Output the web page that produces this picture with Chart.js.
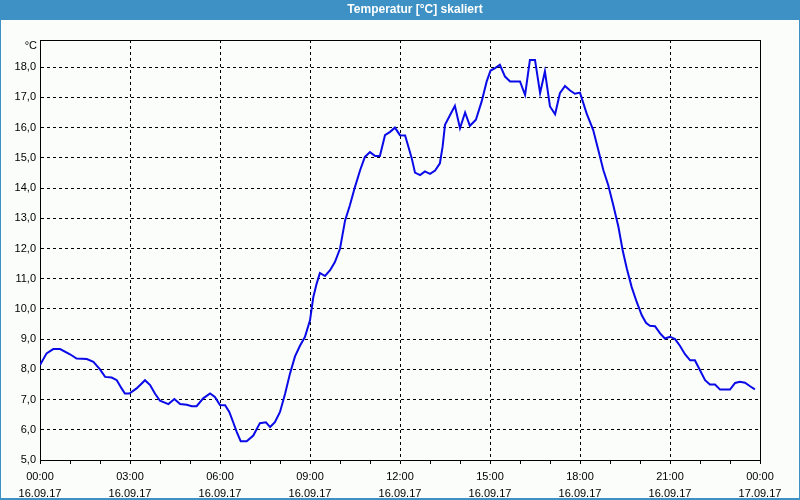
<!DOCTYPE html>
<html>
<head>
<meta charset="utf-8">
<script src="https://cdn.jsdelivr.net/npm/chart.js@4"></script>
<style>
html,body{margin:0;padding:0;background:#fafdfa;}
#wrap{width:800px;height:500px;}
</style>
</head>
<body>
<div id="wrap"><canvas id="c" width="800" height="500"></canvas></div>
<script>
// ---- data ----
const chartTitle = 'Temperatur [°C] skaliert';
const unitLabel = '°C';
const hours = [
  0.0,0.22,0.44,0.67,1.0,1.22,1.56,1.78,2.0,2.17,2.39,2.56,2.72,2.83,2.98,3.22,3.5,3.67,3.83,4.0,
  4.28,4.48,4.67,4.89,5.06,5.22,5.44,5.67,5.83,6.0,6.17,6.31,6.44,6.56,6.69,6.89,7.11,7.33,7.53,7.67,
  7.83,8.0,8.17,8.33,8.5,8.67,8.83,9.0,9.11,9.22,9.33,9.5,9.67,9.83,10.0,10.17,10.33,10.5,10.67,10.83,
  11.0,11.17,11.33,11.5,11.67,11.83,12.0,12.17,12.28,12.39,12.5,12.67,12.83,13.0,13.17,13.33,13.42,13.5,13.67,13.83,
  14.0,14.17,14.33,14.53,14.72,14.89,15.02,15.17,15.33,15.5,15.67,15.83,16.0,16.17,16.33,16.5,16.67,16.83,17.0,17.17,
  17.33,17.5,17.67,17.83,18.0,18.22,18.44,18.61,18.78,18.94,19.11,19.28,19.42,19.56,19.72,19.89,20.06,20.2,20.33,20.5,
  20.67,20.83,21.0,21.17,21.33,21.5,21.67,21.83,22.0,22.17,22.33,22.5,22.67,22.83,23.0,23.17,23.33,23.5,23.67,23.83
];
const temps = [
  8.14,8.53,8.67,8.67,8.5,8.36,8.34,8.25,8.0,7.75,7.73,7.64,7.37,7.2,7.2,7.37,7.64,7.48,7.2,6.96,
  6.85,7.02,6.85,6.83,6.78,6.78,7.04,7.2,7.09,6.82,6.81,6.59,6.25,5.92,5.62,5.62,5.81,6.22,6.25,6.09,
  6.25,6.59,7.19,7.85,8.43,8.79,9.07,9.62,10.39,10.83,11.19,11.09,11.28,11.55,11.99,12.93,13.43,14.04,14.59,15.03,
  15.19,15.06,15.06,15.75,15.86,16.0,15.75,15.74,15.37,14.99,14.51,14.43,14.55,14.47,14.58,14.82,15.37,16.09,16.42,16.72,
  15.98,16.5,16.06,16.26,16.86,17.53,17.89,17.97,18.08,17.69,17.53,17.53,17.53,17.08,18.24,18.24,17.14,17.86,16.7,16.44,
  17.14,17.38,17.23,17.12,17.16,16.47,15.92,15.26,14.59,14.1,13.43,12.72,11.95,11.34,10.73,10.23,9.79,9.54,9.44,9.43,
  9.19,9.02,9.08,9.0,8.78,8.5,8.3,8.3,7.97,7.64,7.5,7.5,7.33,7.33,7.33,7.55,7.59,7.56,7.44,7.34
];
const xTickTimes = ['00:00','03:00','06:00','09:00','12:00','15:00','18:00','21:00','00:00'];
const xTickDates = ['16.09.17','16.09.17','16.09.17','16.09.17','16.09.17','16.09.17','16.09.17','16.09.17','17.09.17'];
const yMin = 5, yMax = 18.9;

// ---- chart ----
Chart.defaults.font.family = 'Liberation Sans, Arial, sans-serif';
Chart.defaults.font.size = 11;
Chart.defaults.color = '#000';

const frame = {
  id: 'frame',
  beforeDraw(chart) {
    const ctx = chart.ctx, W = chart.width, H = chart.height;
    ctx.save();
    ctx.fillStyle = '#fafdfa';
    ctx.fillRect(0, 0, W, H);
    ctx.fillStyle = '#3d91c4';
    ctx.fillRect(0, 0, W, 20);
    ctx.fillRect(0, 0, 1, H);
    ctx.fillRect(W - 1, 0, 1, H);
    ctx.fillRect(0, H - 2, W, 2);
    ctx.fillStyle = '#ffffff';
    ctx.font = 'bold 12px "Liberation Sans", Arial, sans-serif';
    ctx.textAlign = 'center';
    ctx.textBaseline = 'middle';
    ctx.fillText(chartTitle, 415, 10);
    ctx.restore();
  },
  afterDraw(chart) {
    const ctx = chart.ctx, a = chart.chartArea;
    ctx.save();
    ctx.strokeStyle = '#000';
    ctx.lineWidth = 1;
    ctx.beginPath();
    ctx.moveTo(Math.round(a.left) + 0.5, Math.round(a.top) + 0.5);
    ctx.lineTo(Math.round(a.right) + 0.5, Math.round(a.top) + 0.5);
    ctx.lineTo(Math.round(a.right) + 0.5, Math.round(a.bottom) + 0.5);
    ctx.stroke();
    ctx.fillStyle = '#000';
    ctx.font = '11px "Liberation Sans", Arial, sans-serif';
    ctx.textAlign = 'right';
    ctx.textBaseline = 'middle';
    ctx.fillText(unitLabel, a.left - 3, a.top + 6);
    ctx.restore();
  }
};

new Chart(document.getElementById('c'), {
  type: 'line',
  data: {
    datasets: [{
      data: hours.map((h, i) => ({x: h, y: temps[i]})),
      borderColor: '#0a0ae8',
      borderWidth: 2,
      pointRadius: 0,
      tension: 0,
      fill: false
    }]
  },
  options: {
    responsive: false,
    animation: false,
    devicePixelRatio: 1,
    layout: {padding: {top: 40, right: 40, left: 0, bottom: 0}},
    plugins: {legend: {display: false}, title: {display: false}, tooltip: {enabled: false}},
    scales: {
      x: {
        type: 'linear',
        min: 0, max: 24,
        afterFit(s) { s.height = 40; },
        border: {display: true, color: '#000', width: 1, dash: [3, 3]},
        grid: {
          color: c => (c.tick && c.tick.value % 3 === 0) ? '#000' : 'rgba(0,0,0,0)',
          tickColor: '#000',
          tickLength: 4,
          lineWidth: 1,
          drawTicks: true
        },
        ticks: {
          stepSize: 1,
          autoSkip: false,
          maxRotation: 0,
          padding: 4,
          font: {size: 11, lineHeight: '17px'},
          callback: v => (v % 3 === 0) ? [xTickTimes[v / 3], xTickDates[v / 3]] : ''
        }
      },
      y: {
        min: yMin, max: yMax,
        afterFit(s) { s.width = 40; },
        border: {display: true, color: '#000', width: 1, dash: [3, 3]},
        grid: {
          color: c => (c.tick && Number.isInteger(c.tick.value)) ? '#000' : 'rgba(0,0,0,0)',
          drawTicks: false,
          lineWidth: 1
        },
        ticks: {
          stepSize: 1,
          padding: 4,
          callback: v => Number.isInteger(v) ? v.toFixed(1).replace('.', ',') : ''
        }
      }
    }
  },
  plugins: [frame]
});
</script>
</body>
</html>
